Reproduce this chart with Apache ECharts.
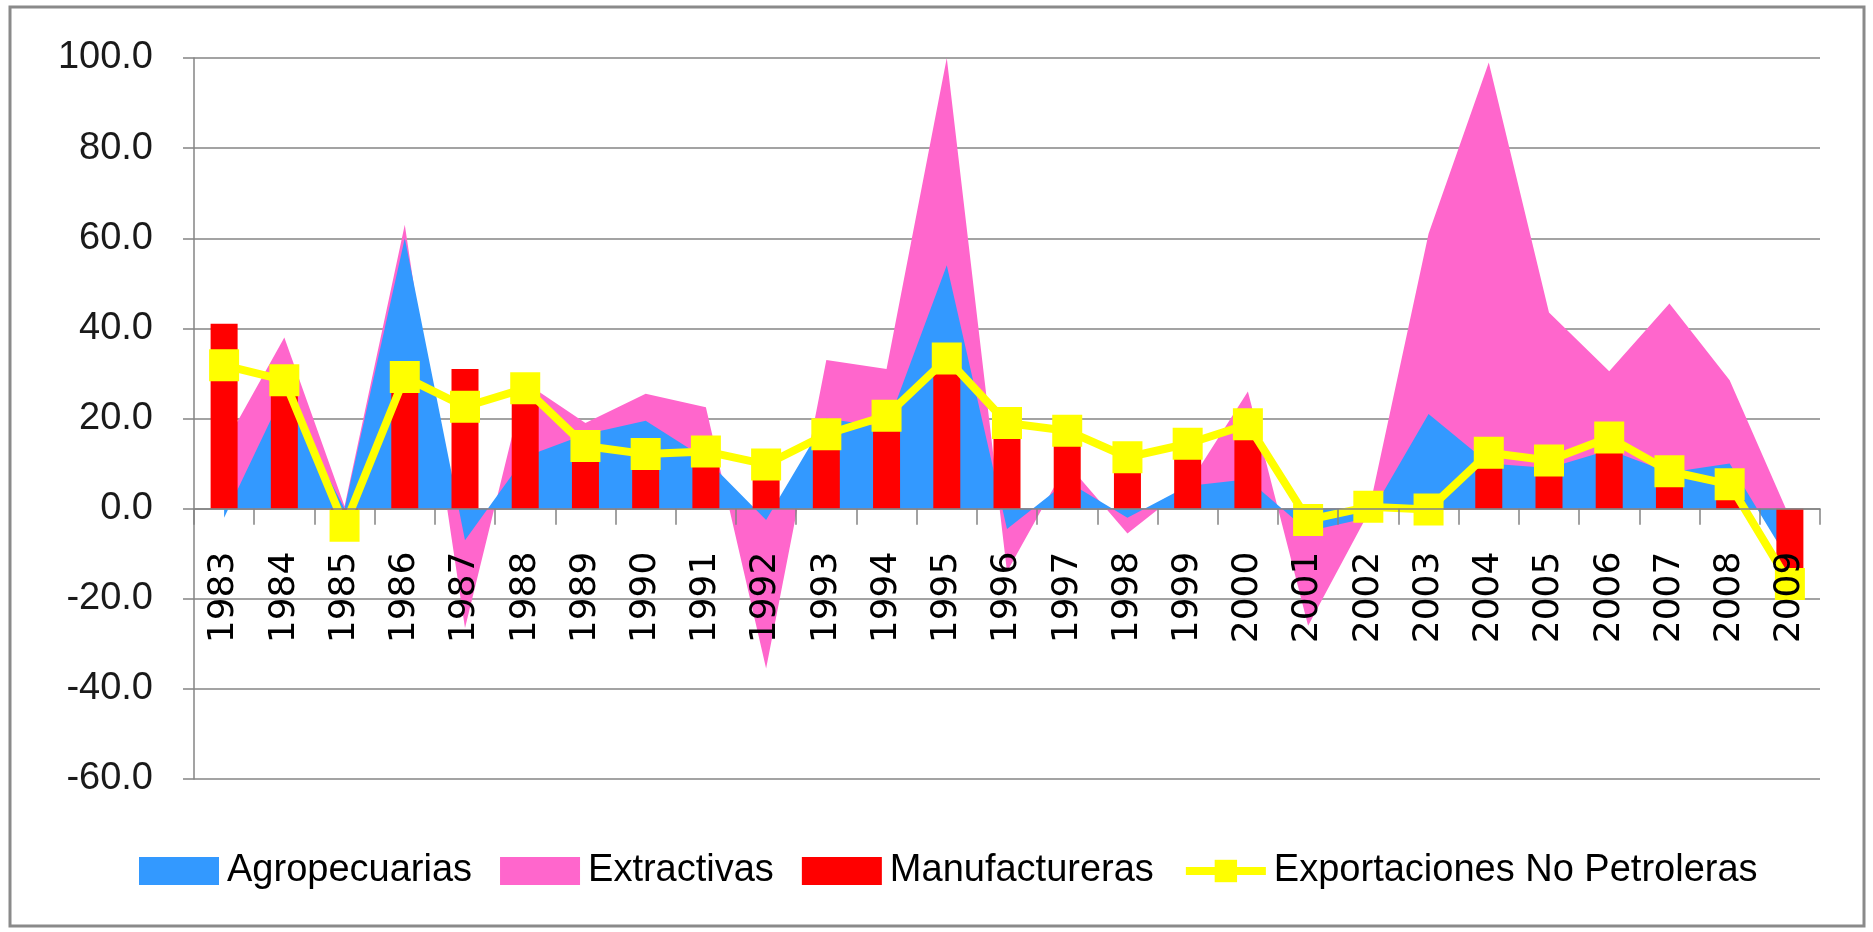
<!DOCTYPE html>
<html>
<head>
<meta charset="utf-8">
<script src="https://cdn.jsdelivr.net/npm/echarts@6/dist/echarts.min.js"></script>
<style>
  html, body { margin: 0; padding: 0; background: #ffffff; }
  #chart { width: 1873px; height: 932px; }
</style>
</head>
<body>
<div id="chart"></div>
<script>
// Annual growth (%) of non-oil exports by sector
const years = ['1983','1984','1985','1986','1987','1988','1989','1990','1991','1992','1993','1994','1995',
               '1996','1997','1998','1999','2000','2001','2002','2003','2004','2005','2006','2007','2008','2009'];

const agropecuarias = [-2, 26, 0, 60, -7, 11.5, 16.5, 19.5, 11, -2.5, 20, 18, 54,
                       -4.5, 6, -2, 5, 6.5, -5, -2, 21, 10, 9, 13, 8, 10, -12];

const extractivas = [14, 38, 0.5, 63, -26.5, 28, 19, 25.5, 22.5, -35.5, 33, 31, 100,
                     -14, 10, -5.5, 5, 26, -26, -1, 61, 99, 43.5, 30.5, 45.5, 28.5, -2];

const manufactureras = [41, 27, -3, 28, 31, 25.5, 12.5, 11, 11.5, 8.5, 15, 19, 31.5,
                        17.5, 16, 10, 13, 17, -2, 0.5, 0, 11, 9.5, 14.5, 7, 4, -16];

const exportacionesNoPetroleras = [31.8, 28.5, -3.8, 29.2, 22.6, 26.7, 13.9, 12.1, 12.7, 9.8, 16.5, 20.6, 33.3,
                                   19.0, 17.3, 11.4, 14.4, 18.7, -2.5, 0.4, -0.2, 12.4, 10.7, 15.8, 8.3, 5.4, -16.7];

const yTicks = { min: -60, max: 100, step: 20 };

const COLORS = {
  agro: '#3399FF',
  extr: '#FF66CC',
  manu: '#FF0000',
  expo: '#FFFF00',
  grid: '#848484'
};

// plot box in pixels
const GRID = { left: 194, right: 53, top: 58, bottom: 153 };
const CHART_H = 932;
const plotBottom = CHART_H - GRID.bottom;
const zeroY = GRID.top + (yTicks.max / (yTicks.max - yTicks.min)) * (plotBottom - GRID.top);
// year labels hang just under the zero line rather than under the plot
const labelGap = 43;
const xLabelMargin = labelGap - (plotBottom - zeroY);

const chart = echarts.init(document.getElementById('chart'), null, { renderer: 'canvas' });

chart.setOption({
  animation: false,
  backgroundColor: '#ffffff',
  graphic: [{
    type: 'rect',
    shape: { x: 10, y: 7, width: 1854, height: 919 },
    style: { fill: 'none', stroke: '#8a8a8a', lineWidth: 3 },
    silent: true,
    z: 0
  }],
  grid: { left: GRID.left, right: GRID.right, top: GRID.top, bottom: GRID.bottom, containLabel: false },
  legend: {
    left: 134,
    top: 847,
    itemWidth: 80,
    itemHeight: 28,
    itemGap: 28,
    textStyle: { fontFamily: 'Liberation Sans, Arial, sans-serif', fontSize: 38, color: '#000', padding: [0, 0, 0, 3] },
    data: [
      { name: 'Agropecuarias', icon: 'rect' },
      { name: 'Extractivas', icon: 'rect' },
      { name: 'Manufactureras', icon: 'rect' },
      { name: 'Exportaciones No Petroleras', lineStyle: { width: 8, color: COLORS.expo }, itemStyle: { color: COLORS.expo } }
    ]
  },
  xAxis: {
    type: 'category',
    data: years,
    boundaryGap: true,
    z: 10,
    axisLine: { show: true, onZero: true, lineStyle: { color: COLORS.grid, width: 1.5 } },
    axisTick: { show: true, length: 16, lineStyle: { color: COLORS.grid, width: 1.5 } },
    axisLabel: {
      interval: 0,
      rotate: 90,
      margin: xLabelMargin,
      fontFamily: 'DejaVu Sans, sans-serif',
      fontSize: 36,
      color: '#000'
    },
    splitLine: { show: false }
  },
  yAxis: {
    type: 'value',
    min: yTicks.min,
    max: yTicks.max,
    interval: yTicks.step,
    axisLine: { show: true, lineStyle: { color: COLORS.grid, width: 1.5 } },
    axisTick: { show: true, length: 11, lineStyle: { color: COLORS.grid, width: 1.5 } },
    axisLabel: {
      margin: 41,
      fontFamily: 'Liberation Sans, Arial, sans-serif',
      fontSize: 38,
      color: '#1a1a1a',
      formatter: v => v.toFixed(1)
    },
    splitLine: { show: true, lineStyle: { color: COLORS.grid, width: 1.5 } }
  },
  series: [
    {
      name: 'Extractivas',
      type: 'line',
      data: extractivas,
      z: 1,
      symbol: 'none',
      silent: true,
      color: COLORS.extr,
      itemStyle: { color: COLORS.extr },
      lineStyle: { width: 0, color: COLORS.extr },
      areaStyle: { color: COLORS.extr, opacity: 1 }
    },
    {
      name: 'Agropecuarias',
      type: 'line',
      data: agropecuarias,
      z: 2,
      symbol: 'none',
      silent: true,
      color: COLORS.agro,
      itemStyle: { color: COLORS.agro },
      lineStyle: { width: 0, color: COLORS.agro },
      areaStyle: { color: COLORS.agro, opacity: 1 }
    },
    {
      name: 'Manufactureras',
      type: 'bar',
      data: manufactureras,
      z: 3,
      barWidth: 27,
      silent: true,
      color: COLORS.manu,
      itemStyle: { color: COLORS.manu }
    },
    {
      name: 'Exportaciones No Petroleras',
      type: 'line',
      data: exportacionesNoPetroleras,
      z: 4,
      symbol: 'rect',
      symbolSize: [30, 32],
      showSymbol: true,
      silent: true,
      color: COLORS.expo,
      itemStyle: { color: COLORS.expo },
      lineStyle: { width: 8, color: COLORS.expo }
    }
  ]
});
</script>
</body>
</html>
